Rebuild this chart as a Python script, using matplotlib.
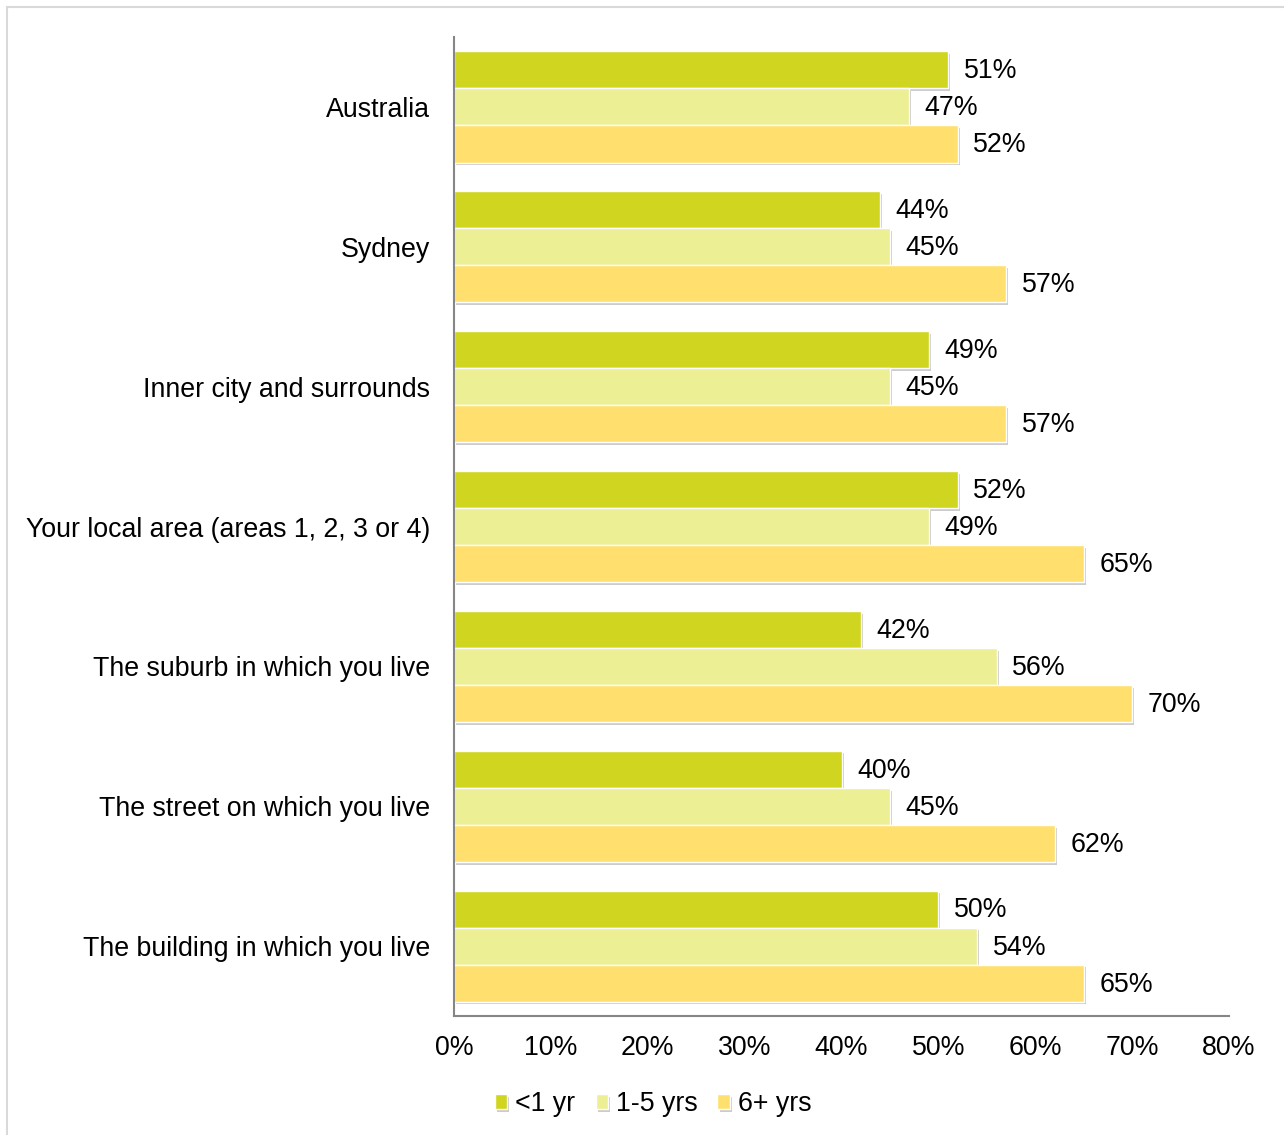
import numpy as np
import matplotlib.pyplot as plt
import matplotlib.patheffects as pe
from matplotlib.patches import Rectangle
from matplotlib.ticker import PercentFormatter

plt.rcParams['font.family'] = ['Liberation Sans', 'DejaVu Sans']

# data
categories = ['Australia', 'Sydney', 'Inner city and surrounds',
              'Your local area (areas 1, 2, 3 or 4)', 'The suburb in which you live',
              'The street on which you live', 'The building in which you live']
lt1 = [51, 44, 49, 52, 42, 40, 50]
y1to5 = [47, 45, 45, 49, 56, 45, 54]
y6plus = [52, 57, 57, 65, 70, 62, 65]
series_names = ['<1 yr', '1-5 yrs', '6+ yrs']
colors = ['#D0D51F', '#EDEF94', '#FFE06E']

fs = 19.3

fig = plt.figure(figsize=(12.84, 11.35), dpi=100)
ax = fig.add_axes([0.3536, 0.1048, 0.6036, 0.8626])

# light frame around the figure
fig.patches.append(Rectangle((7 / 1284, -0.01), 1.02, 1 - 7 / 1135 + 0.01,
                             transform=fig.transFigure, fill=False,
                             edgecolor='#D9D9D9', linewidth=1.5))

y = np.arange(len(categories))
h = 0.265
shadow = [pe.SimplePatchShadow(offset=(1.5, -2), shadow_rgbFace='#9a9a9a', alpha=0.5), pe.Normal()]
for i, (vals, name, col) in enumerate(zip([lt1, y1to5, y6plus], series_names, colors)):
    pos = y + (i - 1) * h
    bars = ax.barh(pos, vals, height=h, color=col, edgecolor='white', linewidth=1,
                   label=name, path_effects=shadow)
    for b, v in zip(bars, vals):
        ax.text(v + 1.6, b.get_y() + b.get_height() / 2 + 0.01, f'{v}%',
                va='center', ha='left', fontsize=fs)

ax.set_ylim(len(categories) - 0.5, -0.5)
ax.set_xlim(0, 80)
ax.set_xticks(np.arange(0, 81, 10))
ax.xaxis.set_major_formatter(PercentFormatter(decimals=0))
ax.set_yticks(y)
ax.set_yticklabels(categories)
ax.tick_params(axis='both', length=0, labelsize=fs)
ax.tick_params(axis='y', pad=17)
ax.tick_params(axis='x', pad=14)
for s in ['top', 'right']:
    ax.spines[s].set_visible(False)
for s in ['left', 'bottom']:
    ax.spines[s].set_color('#868686')
    ax.spines[s].set_linewidth(1.5)

ax.legend(loc='upper center', bbox_to_anchor=(0.257, -0.052), ncol=3, frameon=False,
          fontsize=fs, handlelength=0.45, handleheight=0.45, handletextpad=0.3,
          columnspacing=0.75)

fig.savefig('out.png', dpi=100)
